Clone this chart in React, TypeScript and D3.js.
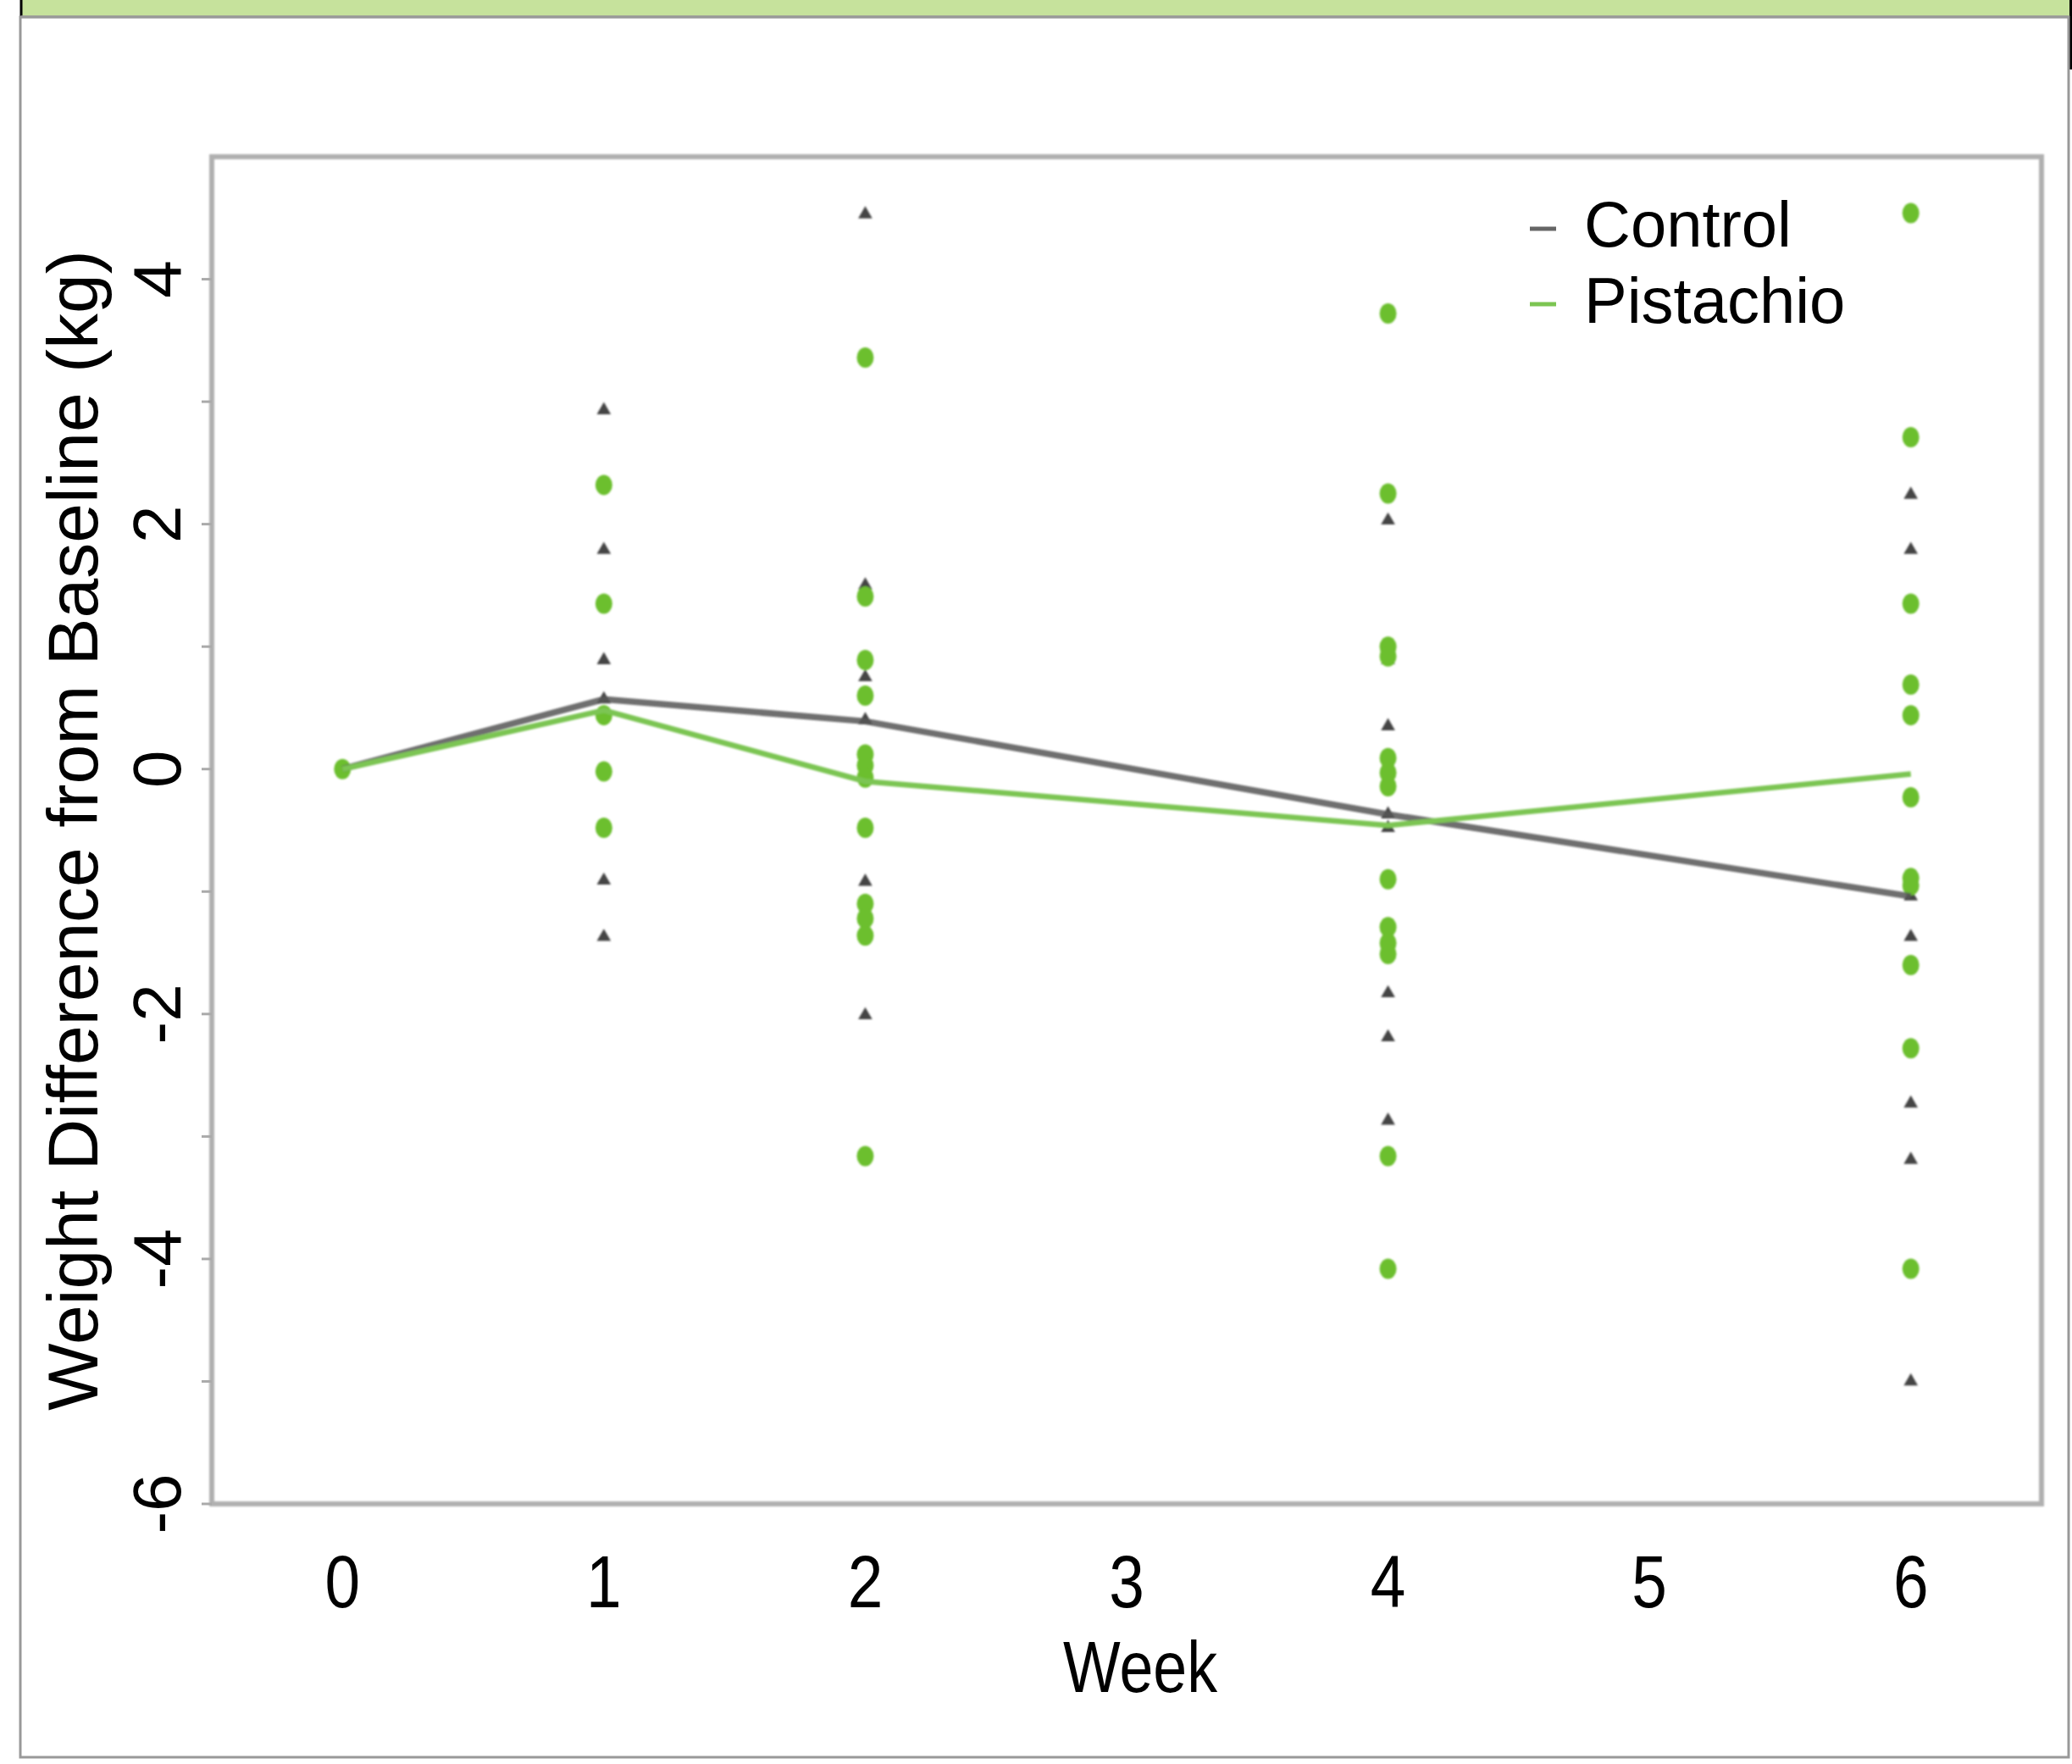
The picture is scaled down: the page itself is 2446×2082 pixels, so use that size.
import * as d3 from 'd3';

// weeks that were measured
const weeks = [0, 1, 2, 4, 6];

// individual weight changes (kg) per week
const controlPoints = [
  [0],
  [2.93, 1.79, 0.89, 0.57, -0.91, -1.37],
  [4.53, 1.5, 0.75, 0.4, -0.92, -2.01],
  [2.03, 0.89, 0.35, -0.04, -0.37, -0.48, -1.83, -2.19, -2.87],
  [2.24, 1.79, -1.04, -1.37, -2.73, -3.19, -5.0],
];
const pistachioPoints = [
  [0],
  [2.32, 1.35, 0.44, -0.02, -0.48],
  [3.36, 1.41, 0.89, 0.6, 0.12, 0.03, -0.07, -0.48, -1.1, -1.22, -1.36, -3.16],
  [3.72, 2.25, 1.0, 0.92, 0.09, -0.03, -0.14, -0.9, -1.29, -1.42, -1.51, -3.16, -4.08],
  [4.54, 2.71, 1.35, 0.69, 0.44, -0.23, -0.89, -0.95, -1.6, -2.28, -4.08],
];

// group means (the lines)
const controlMean = [0, 0.57, 0.39, -0.37, -1.04];
const pistachioMean = [0, 0.48, -0.1, -0.46, -0.04];

const xTicks = [0, 1, 2, 3, 4, 5, 6];
const yTicks = [-6, -5, -4, -3, -2, -1, 0, 1, 2, 3, 4];
const yLabels = [-6, -4, -2, 0, 2, 4];

const W = 2446;
const H = 2082;
const left = 250, right = 2410, top = 185, bottom = 1775;

const GREEN = '#6cbf2e';
const GREEN_LINE = '#7cc552';
const DARK = '#444';

export default function App() {
  const x = d3.scaleLinear().domain([-0.5, 6.5]).range([left, right]);
  const y = d3.scaleLinear().domain([-6, 5]).range([bottom, top]);

  const line = d3.line<number>()
    .x((_, i) => x(weeks[i]))
    .y(d => y(d));

  const tri = d3.symbol().type(d3.symbolTriangle).size(120)();

  const font = 'Liberation Sans, Arial, Helvetica, sans-serif';

  return (
    <svg width={W} height={H} style={{ position: 'absolute', left: 0, top: 0, background: '#fff' }}
      fontFamily={font}>
      <defs>
        <filter id="soft" x="-5%" y="-5%" width="110%" height="110%">
          <feGaussianBlur stdDeviation="1.2" />
        </filter>
      </defs>

      {/* page frame */}
      <rect x={25} y={0} width={W - 25} height={19} fill="#c6e29c" />
      <line x1={25} x2={25} y1={0} y2={19} stroke="#000" strokeWidth={3} />
      <line x1={2444.5} x2={2444.5} y1={0} y2={82} stroke="#000" strokeWidth={3} />
      <line x1={25} x2={2442} y1={20} y2={20} stroke="#999" strokeWidth={3} />
      <rect x={24} y={20} width={2418} height={2054} fill="none" stroke="#999" strokeWidth={3} />

      {/* plot box */}
      <rect x={left} y={top} width={right - left} height={bottom - top}
        fill="none" stroke="#b0b0b0" strokeWidth={6} filter="url(#soft)" />

      {/* y ticks */}
      {yTicks.map(t => (
        <line key={t} x1={left - 12} x2={left} y1={y(t)} y2={y(t)} stroke="#aaa" strokeWidth={3} />
      ))}
      {yLabels.map(t => (
        <text key={t} transform={`translate(213,${y(t)}) rotate(-90)`} textAnchor="middle"
          fontSize={80} fill="#000">{t}</text>
      ))}
      <text transform={`translate(115,${(top + bottom) / 2}) rotate(-90)`} textAnchor="middle"
        fontSize={84} fill="#000">Weight Difference from Baseline (kg)</text>

      {/* x labels */}
      {xTicks.map(t => (
        <text key={t} transform={`translate(${x(t)},1897) scale(0.85,1)`} textAnchor="middle"
          fontSize={88} fill="#000">{t}</text>
      ))}
      <text x={1346} y={1997} textAnchor="middle" fontSize={86} fill="#000"
        textLength={182} lengthAdjust="spacingAndGlyphs">Week</text>

      {/* scatter */}
      <g filter="url(#soft)">
        {controlPoints.map((vals, i) => vals.map((v, j) => (
          <path key={`c${i}-${j}`} d={tri} transform={`translate(${x(weeks[i])},${y(v)})`} fill={DARK} />
        )))}
        {pistachioPoints.map((vals, i) => vals.map((v, j) => (
          <ellipse key={`p${i}-${j}`} cx={x(weeks[i])} cy={y(v)} rx={10} ry={12} fill={GREEN} />
        )))}

        {/* mean lines */}
        <path d={line(controlMean) ?? ''} fill="none" stroke="#555" strokeWidth={7.5} strokeOpacity={0.85} />
        <path d={line(pistachioMean) ?? ''} fill="none" stroke={GREEN_LINE} strokeWidth={6.5} />
      </g>

      {/* legend */}
      <line x1={1806} x2={1837} y1={270} y2={270} stroke="#666" strokeWidth={5} />
      <text x={1870} y={291} fontSize={76} fill="#000">Control</text>
      <line x1={1806} x2={1837} y1={359} y2={359} stroke={GREEN_LINE} strokeWidth={5} />
      <text x={1870} y={381} fontSize={76} fill="#000">Pistachio</text>
    </svg>
  );
}
